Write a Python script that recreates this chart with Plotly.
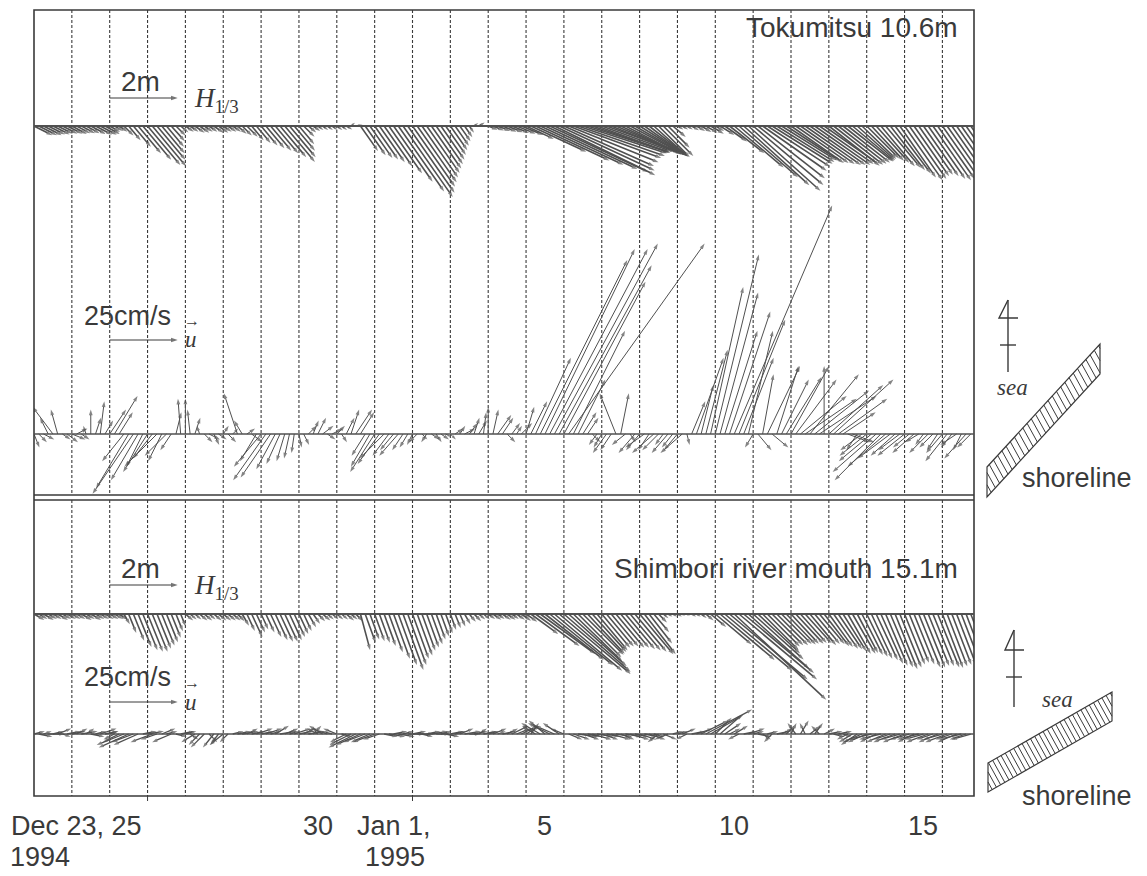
import math
import plotly.graph_objects as go

# ---------------- data: 3-hourly samples from Dec 23 1994 00:00 ----------------
STEP_DAYS = 0.125  # 3 h

# Tokumitsu 10.6 m : significant wave height (m) and direction (deg below the +x axis)
tok_h = [
    0.6, 0.6, 0.6, 0.55, 0.55, 0.5, 0.5, 0.5,
    0.5, 0.45, 0.45, 0.45, 0.5, 0.55, 0.55, 0.5,
    0.35, 0.3, 0.3, 0.4, 0.55, 0.8, 1.05, 1.3,
    1.5, 1.55, 1.3, 1.05, 0.8, 0.6, 0.4, 0.3,
    0.3, 0.3, 0.35, 0.35, 0.3, 0.3, 0.35, 0.35,
    0.3, 0.3, 0.3, 0.35, 0.4, 0.45, 0.55, 0.65,
    0.75, 0.85, 0.95, 1.05, 1.2, 1.38, 1.2, 0.95,
    0.7, 0.45, 0.3, 0.25, 0.2, 0.2, 0.2, 0.2,
    0.2, 0.2, 0.2, 0.15, 0.2, 0.9, 1.05, 1.15,
    1.2, 1.3, 1.45, 1.7, 2.0, 2.35, 2.55, 2.4,
    2.18, 2.02, 1.85, 1.69, 1.53, 1.37, 1.21, 1.04,
    0.87, 0.71, 0.55, 0.4, 0.24, 0.15, 0.2, 0.12,
    0.3, 0.35, 0.4, 0.45, 0.5, 0.55, 0.6, 0.7,
    0.9, 1.8, 2.4, 2.7, 3.0, 3.2, 3.3, 3.1,
    2.9, 2.85, 2.75, 2.7, 2.6, 2.5, 2.4, 2.3,
    2.2, 2.1, 2.05, 2.0, 1.9, 1.85, 1.8, 1.7,
    1.6, 1.55, 1.45, 1.35, 1.3, 1.25, 0.9, 0.5,
    0.2, 0.2, 0.2, 0.25, 0.3, 0.35, 0.4, 0.45,
    0.3, 0.5, 0.8, 1.3, 1.9, 2.3, 2.6, 2.85,
    2.7, 2.5, 2.3, 2.2, 2.1, 2.0, 1.9, 1.9,
    1.9, 1.9, 1.95, 2.0, 2.0, 2.0, 1.95, 1.9,
    1.9, 1.85, 1.8, 1.75, 1.7, 1.6, 1.5, 1.4,
    1.35, 1.4, 1.45, 1.55, 1.6, 1.65, 1.75, 1.85,
    1.95, 1.9, 1.8, 1.75, 1.8, 1.9, 1.95, 1.9,
    1.85, 1.8, 1.8, 1.75, 1.7, 1.7, 1.7,
]
tok_dir = [
    27, 27, 27, 27, 27, 27, 27, 27,
    28, 28, 28, 28, 28, 28, 28, 28,
    30, 30, 35, 45, 50, 50, 50, 50,
    50, 50, 50, 50, 50, 48, 45, 40,
    35, 35, 35, 35, 35, 35, 35, 35,
    35, 35, 35, 40, 45, 45, 50, 50,
    50, 50, 50, 50, 50, 50, 50, 50,
    50, 45, 40, 35, 35, 35, 35, 35,
    35, 35, 30, -40, -10, 55, 55, 55,
    55, 55, 55, 55, 55, 55, 55, 55,
    55, 55, 55, 55, 55, 55, 55, 55,
    55, 55, 55, 55, 55, -35, -30, -10,
    22, 22, 22, 22, 22, 22, 22, 22,
    25, 25, 25, 25, 25, 25, 26, 25,
    24, 22, 20, 19, 18, 18, 19, 20,
    20, 20, 22, 23, 25, 27, 28, 30,
    32, 35, 38, 42, 45, 45, 45, 40,
    30, 30, 30, 30, 30, 30, 30, 30,
    30, 32, 35, 38, 40, 41, 42, 42,
    40, 38, 35, 33, 32, 32, 32, 33,
    35, 35, 35, 35, 35, 35, 35, 35,
    38, 38, 38, 38, 38, 40, 42, 44,
    45, 47, 48, 50, 50, 52, 53, 55,
    55, 55, 55, 55, 55, 55, 55, 55,
    55, 55, 55, 55, 55, 55, 55,
]
# Tokumitsu current (cm/s): east and north components
tok_u = [
    2, 3, 4, -3, -7.5, -2.5, 3, 4,
    5, 4, 3, -1, 0, 2, 1.5, 3,
    6, 8.5, 5, -8, -12, -15, -10, -6,
    -9, -7, -12, -5, -8, -4, 2, -1,
    0, -1, 2, -1, 3, 4, 2, 3,
    2, 3, 2, -5, -3, 3, 4, -6,
    -10, -12, -11, -7, -5, -3, -2, -1,
    1, 2, 3, 2, 3, 4, 3, 4,
    3, 2, 3, 3, 6, 5, -5, -7,
    -9, -8, -9, -6, -5, -7, -4, -3,
    -2, -3, 2, -2, 3, 2, 3, 2,
    2, 3, 2, 4, 3, 2, 3, 1,
    0, 2, 5, 4, 3, 3, 2, 4,
    3, 6, 13, 32, 33, 36, 38, 34,
    30, 50, 19, 10, 5, 4, 3, -3,
    -3, -5, -4, -6, 3, -5, 2, -6,
    -5, -7, -4, -8, -6, -3, -6, -4,
    -5, -8, 1, 5, 10, 4.5, 8, 12,
    16, 14, 12, 15, 36, 17, 11, 9,
    -3, 5, 4, 12, 6, 8, 10, 13,
    14, 15, 17, 19, 18, 20, 21, 0,
    20, 22, 18, 12, 8, 8, -4, -8,
    -10, -12, -16, -17, -14, -12, -9, -8,
    -10, -6, -8, -5, -3, -7, -5, -4,
    -6, -8, -4, -6, -3, -8, -5,
]
tok_v = [
    -5, -3, -2, 6, 10, 9, -2, -3,
    -2, 2, -2, 3, 9, 6, 12, 5,
    9, 14, 8, -10, -20, -22, -17, -12,
    -14, -9, -12, -10, -8, -6, 8, 13,
    13, 9, 6, 3, -3, -2, -4, -2,
    3, -3, 2, 15, 5, 2, -3, -10,
    -12, -17, -16, -13, -11, -10, -9, -7,
    -5, -4, 3, 5, 6, 3, -2, 2,
    3, -3, 6, 9, 9, 8, -8, -12,
    -14, -11, -9, -8, -6, -8, -6, -5,
    -4, -3, -2, -3, -2, -3, -2, -1,
    -2, 2, 3, 2, 4, 6, 5, 8,
    10, 9, 7, 6, -3, 4, 3, 4,
    10, 12, 28, 64, 68, 68, 70, 62,
    56, 70, 38, 20, 8, 6, -3, -4,
    -5, -7, -6, 15, 15, -4, -3, -7,
    -6, -5, -6, -7, -6, -4, -7, -5,
    -6, -7, -4, 12, 28, 18, 31, 54,
    66, 52, 38, 45, 84, 42, 28, 38,
    -5, -6, 22, 25, -5, 25, 20, 21,
    25, 20, 14, 13, 22, 16, 14, 25,
    18, 20, 13, 8, -3, -3, -6, -6,
    -8, -10, -14, -17, -12, -9, -8, -6,
    -8, -5, -7, -3, -4, -7, -5, -6,
    -7, -10, -5, -4, -6, -9, -5,
]

# Shimbori river mouth 15.1 m
shi_h = [
    0.35, 0.3, 0.35, 0.3, 0.3, 0.35, 0.3, 0.3,
    0.3, 0.3, 0.35, 0.3, 0.35, 0.3, 0.3, 0.3,
    0.3, 0.3, 0.3, 0.35, 0.6, 0.85, 1.05, 1.15,
    1.2, 1.2, 1.1, 1.0, 0.9, 0.75, 0.55, 0.4,
    0.3, 0.25, 0.25, 0.3, 0.3, 0.25, 0.3, 0.3,
    0.3, 0.3, 0.3, 0.3, 0.4, 0.55, 0.75, 0.6,
    0.5, 0.6, 0.75, 0.85, 0.9, 0.9, 0.85, 0.75,
    0.65, 0.55, 0.45, 0.35, 0.3, 0.3, 0.25, 0.25,
    0.25, 0.25, 0.3, 0.25, 0.3, 1.1, 0.9, 0.8,
    0.85, 0.9, 1.0, 1.2, 1.4, 1.6, 1.75, 1.6,
    1.4, 1.3, 1.15, 1.05, 0.95, 0.8, 0.7, 0.6,
    0.5, 0.45, 0.4, 0.35, 0.3, 0.3, 0.25, 0.25,
    0.25, 0.3, 0.25, 0.3, 0.3, 0.25, 0.3, 0.35,
    0.4, 1.0, 1.6, 2.0, 2.2, 2.4, 2.6, 2.75,
    2.6, 2.3, 2.0, 1.8, 1.7, 1.6, 1.5, 1.4,
    1.3, 1.25, 1.25, 1.3, 1.3, 1.35, 1.4, 1.45,
    1.55, 1.5, 1.1, 0.7, 0.35, 0.2, 0.15, 0.15,
    0.15, 0.1, 0.1, 0.15, 0.15, 0.2, 0.3, 0.6,
    1.4, 2.1, 2.6, 3.0, 3.7, 3.0, 2.7, 2.4,
    2.0, 1.7, 1.5, 1.35, 1.3, 1.3, 1.25, 1.25,
    1.2, 1.2, 1.15, 1.15, 1.2, 1.15, 1.15, 1.2,
    1.2, 1.25, 1.25, 1.3, 1.35, 1.35, 1.3, 1.35,
    1.4, 1.45, 1.5, 1.6, 1.65, 1.7, 1.75, 1.7,
    1.6, 1.55, 1.6, 1.7, 1.7, 1.65, 1.65, 1.7,
    1.7, 1.65, 1.6, 1.6, 1.5, 1.45, 1.4,
]
shi_dir = [
    30, 30, 30, 30, 30, 30, 30, 30,
    30, 30, 30, 30, 30, 30, 30, 30,
    30, 30, 35, 60, 68, 68, 68, 68,
    68, 68, 68, 68, 68, 68, 68, 68,
    40, 40, 40, 40, 40, 40, 40, 40,
    40, 40, 40, 45, 60, 65, 65, 65,
    65, 65, 65, 65, 65, 65, 65, 65,
    65, 65, 60, 55, 45, 40, 40, 40,
    40, 40, 40, 40, 45, 75, 70, 70,
    70, 70, 70, 70, 70, 70, 70, 70,
    70, 70, 70, 70, 70, 70, 70, 70,
    70, 68, 66, 60, 50, 45, 40, 40,
    35, 35, 35, 35, 35, 35, 35, 35,
    35, 36, 36, 36, 38, 39, 40, 40,
    41, 42, 44, 45, 45, 47, 48, 50,
    50, 50, 50, 50, 50, 50, 50, 50,
    50, 52, 52, 50, 45, 40, 30, 30,
    30, 30, 30, 30, 30, 35, 40, 40,
    40, 40, 40, 40, 43, 40, 40, 42,
    42, 43, 45, 45, 45, 45, 45, 46,
    47, 47, 48, 48, 50, 50, 50, 52,
    54, 55, 56, 58, 60, 60, 62, 63,
    64, 65, 65, 66, 67, 67, 68, 68,
    68, 68, 68, 68, 68, 68, 68, 68,
    69, 69, 69, 69, 69, 69, 69,
]
shi_u = [
    4, 5, 3, 6, 4, 5, 3, 5,
    5, 4, 6, 3, 5, 4, 6, 5,
    3, -4, -6, -10, -11, -8, -9, 5,
    6, -8, -6, 5, 4, -7, 4, 5,
    4, 3, -5, -4, -5, 3, -4, -3,
    -5, -3, 4, 5, 6, 4, 5, 6,
    5, 6, 4, 5, 6, 5, 4, 6,
    5, 4, 6, 3, -4, -5, -6, -4,
    -5, 4, -6, -8, -10, -9, -8, -7,
    -8, -6, 5, 6, 5, 6, 4, 6,
    5, 6, 4, 5, 6, 5, 4, 5,
    5, 4, 5, 6, 4, 5, 3, 5,
    4, 5, 3, 5, 4, 6, 5, 6,
    5, 3, -5, -7, -6, -8, -7, -6,
    -5, 5, 6, 7, 6, 5, 7, 6,
    6, 5, 7, 6, 5, 6, 7, 5,
    6, 5, 6, 4, -4, 5, -5, 4,
    4, 5, -4, 5, 6, 10, 17, 12,
    6, 8, 6, 4, 5, -4, 5, 6,
    4, 5, 3, 4, -3, 5, 4, 3,
    2, -3, 3, -2, 4, 3, -3, 4,
    5, 4, 5, 3, -4, -5, -6, -7,
    -7, -8, -6, -8, -7, -6, -8, -7,
    -8, -7, -6, -8, -7, -8, -6, -7,
    -7, -8, -6, -7, -8, -6, -7,
]
shi_v = [
    1, -1, 1, 0, 1, 2, -1, 1,
    1, 2, 1, 2, -1, 1, 2, 1,
    1, -2, -3, -4, -5, -3, -4, 1,
    1, -3, -2, 2, 1, -3, -1, 1,
    1, -2, -3, -4, -5, -3, -5, -4,
    -4, -3, 1, 1, 1, 2, 1, 2,
    1, 2, 1, 3, 1, 2, 1, 2,
    1, 2, 1, 3, 2, 3, 2, 1,
    2, -1, -3, -4, -5, -4, -3, -3,
    -3, -2, -1, -1, 1, -1, 1, 0,
    1, 0, -1, 1, 1, 0, 1, -1,
    1, 1, 2, 1, 0, 1, 2, 1,
    1, 2, 1, 1, 2, 3, 2, 3,
    3, 4, 3, 4, 5, 4, 3, 4,
    2, -2, -2, -1, -2, -1, -2, -1,
    -2, -1, -2, -1, -2, -1, -2, -1,
    -2, -1, -2, -1, -3, -2, -2, 1,
    1, 2, -2, 1, 2, 5, 9, 7,
    6, 7, 4, 2, 3, -2, 1, 2,
    1, -1, -2, 1, -3, 1, 2, 3,
    4, 4, 5, 4, 3, 4, 3, 2,
    1, -1, 1, -1, -2, -3, -4, -3,
    -3, -2, -3, -2, -3, -2, -3, -2,
    -3, -2, -3, -2, -2, -3, -2, -3,
    -2, -3, -2, -3, -2, -2, -2,
]

# axis labels
date_labels = ["Dec 23, 25", "30", "Jan 1,", "5", "10", "15"]
year_labels = ["1994", "1995"]
station_titles = ["Tokumitsu 10.6m", "Shimbori river mouth 15.1m"]

# ---------------- geometry ----------------
W, H = 1147, 876
FX0, FX1, FY0, FY1 = 34, 974, 10, 796
SEP1, SEP2 = 495, 500
PX_DAY = 37.85
NDAYS = (FX1 - FX0) / PX_DAY
H_SCALE = 34.0   # px per metre
U_SCALE = 2.72   # px per cm/s
BASE_TOK_H, BASE_TOK_U, BASE_SHI_H, BASE_SHI_U = 126, 434, 614, 734
INK = "#3a3a3a"
STICK = "#505050"
SANS = "Liberation Sans, Arial, sans-serif"
SERIF = "Liberation Serif, Times New Roman, serif"

times = [i * STEP_DAYS for i in range(len(tok_h))]


def px_x(px):
    return px / W


def px_y(py):
    return 1 - py / H


def day_px(d):
    return FX0 + d * PX_DAY


def yrange(base, scale):
    return [-(H - base) / scale, base / scale]


def stick_trace(ts, east, north, scale, yaxis, head=5.5, width=1.0):
    xs, ys, sz = [], [], []
    for t, e, n in zip(ts, east, north):
        L = math.hypot(e, n) * scale
        xs += [t, t + e * scale / PX_DAY, None]
        ys += [0.0, n, None]
        sz += [0, max(0.0, min(head, 0.6 * L)), 0]
    return go.Scatter(
        x=xs, y=ys, yaxis=yaxis, mode="lines+markers",
        line=dict(color=STICK, width=width),
        marker=dict(symbol="arrow", angleref="previous", size=sz, color=STICK,
                    line=dict(width=0)),
        hoverinfo="skip", showlegend=False, cliponaxis=True,
    )


def wave_components(hs, dirs):
    e = [h * math.cos(math.radians(a)) for h, a in zip(hs, dirs)]
    n = [-h * math.sin(math.radians(a)) for h, a in zip(hs, dirs)]
    return e, n


fig = go.Figure()
te, tn = wave_components(tok_h, tok_dir)
se, sn = wave_components(shi_h, shi_dir)
fig.add_trace(stick_trace(times, te, tn, H_SCALE, "y", head=6, width=1.6))
fig.add_trace(stick_trace(times, tok_u, tok_v, U_SCALE, "y2", head=6, width=1.0))
fig.add_trace(stick_trace(times, se, sn, H_SCALE, "y3", head=6, width=1.6))
fig.add_trace(stick_trace(times, shi_u, shi_v, U_SCALE, "y4", head=5.5, width=1.3))


# scale arrows (2 m and 25 cm/s), drawn through the same axes
def scale_arrow(value, scale, base, py, yaxis):
    t0 = 2.0
    y = (base - py) / scale
    return go.Scatter(
        x=[t0, t0 + value * scale / PX_DAY], y=[y, y], yaxis=yaxis,
        mode="lines+markers", line=dict(color=INK, width=1),
        marker=dict(symbol="arrow", angleref="previous", size=[0, 7], color=INK,
                    line=dict(width=0)),
        hoverinfo="skip", showlegend=False,
    )


fig.add_trace(scale_arrow(2.0, H_SCALE, BASE_TOK_H, 98, "y"))
fig.add_trace(scale_arrow(25.0, U_SCALE, BASE_TOK_U, 340, "y2"))
fig.add_trace(scale_arrow(2.0, H_SCALE, BASE_SHI_H, 585, "y3"))
fig.add_trace(scale_arrow(25.0, U_SCALE, BASE_SHI_U, 702, "y4"))

shapes = []
# dashed day lines
for d in range(1, int(NDAYS) + 1):
    for (a, b) in [(FY0, SEP1), (SEP2, FY1)]:
        shapes.append(dict(type="line", xref="x", yref="paper", x0=d, x1=d,
                           y0=px_y(a), y1=px_y(b), layer="below",
                           line=dict(color="#3a3a3a", width=1.1, dash="3px,2px")))
# frame, separator, base lines
shapes.append(dict(type="rect", xref="paper", yref="paper", x0=px_x(FX0), x1=px_x(FX1),
                   y0=px_y(FY1), y1=px_y(FY0), line=dict(color=INK, width=1.6)))
for yy in (SEP1, SEP2):
    shapes.append(dict(type="line", xref="paper", yref="paper", x0=px_x(FX0), x1=px_x(FX1),
                       y0=px_y(yy), y1=px_y(yy), line=dict(color=INK, width=1.3)))
for yy, w in ((BASE_TOK_H, 2.0), (BASE_TOK_U, 1.5), (BASE_SHI_H, 2.0), (BASE_SHI_U, 1.5)):
    shapes.append(dict(type="line", xref="paper", yref="paper", x0=px_x(FX0), x1=px_x(FX1),
                       y0=px_y(yy), y1=px_y(yy), line=dict(color=STICK, width=w)))
for d in (3, 10):
    shapes.append(dict(type="line", xref="x", yref="paper", x0=d, x1=d,
                       y0=px_y(FY1), y1=px_y(FY1 + 5), line=dict(color=INK, width=1)))


# legend glyphs: compass marks and hatched shoreline bands
def compass(x, ytop, ybot, yhead, ycross):
    p = (f"M {px_x(x)},{px_y(ytop)} L {px_x(x - 9)},{px_y(yhead)} L {px_x(x + 10)},{px_y(yhead)}")
    return [
        dict(type="line", xref="paper", yref="paper", x0=px_x(x), x1=px_x(x),
             y0=px_y(ytop), y1=px_y(ybot), line=dict(color=INK, width=1.4)),
        dict(type="path", xref="paper", yref="paper", path=p, line=dict(color=INK, width=1.4)),
        dict(type="line", xref="paper", yref="paper", x0=px_x(x - 8), x1=px_x(x + 8),
             y0=px_y(ycross), y1=px_y(ycross), line=dict(color=INK, width=1.4)),
    ]


def band(xa, ya, xb, yb, T, gap=4.2, hx=0.55):
    m = (yb - ya) / (xb - xa)
    out = []
    path = (f"M {px_x(xa)},{px_y(ya)} L {px_x(xb)},{px_y(yb)} L {px_x(xb)},{px_y(yb + T)} "
            f"L {px_x(xa)},{px_y(ya + T)} Z")
    out.append(dict(type="path", xref="paper", yref="paper", path=path,
                    line=dict(color=INK, width=1.2), fillcolor="white"))
    s = T / (1 - m * hx)
    x0 = xa - s * hx
    while x0 < xb:
        ytop = ya + m * (x0 - xa)
        sx, sy = x0, ytop
        ex, ey = x0 + s * hx, ytop + s
        if sx < xa:
            sy = ytop + (xa - x0) / hx
            sx = xa
        if ex > xb:
            ey = ytop + (xb - x0) / hx
            ex = xb
        if ex > sx:
            out.append(dict(type="line", xref="paper", yref="paper", x0=px_x(sx), x1=px_x(ex),
                            y0=px_y(sy), y1=px_y(ey), line=dict(color=INK, width=1)))
        x0 += gap
    return out


shapes += compass(1008, 300, 372, 318, 345)
shapes += compass(1014, 630, 707, 650, 677)
shapes += band(987, 467, 1100, 344, 30)
shapes += band(988, 763, 1112, 692, 29)

ann = []


def text(s, px, py, size=27, anchor="center", family=SANS, color=INK):
    ann.append(dict(text=s, x=px_x(px), y=px_y(py), xref="paper", yref="paper",
                    xanchor=anchor, yanchor="middle", showarrow=False,
                    font=dict(family=family, size=size, color=color)))


text(station_titles[0], 960, 27, size=28, anchor="right")
text(station_titles[1], 960, 568, size=28, anchor="right")
for arrow_py, cur_py, cur_arrow_py in ((98, 316, 340), (585, 677, 702)):
    text("2m", 140, arrow_py - 17, size=28)
    text("<i>H</i><sub>1/3</sub>", 192, arrow_py + 2, size=27, anchor="left", family=SERIF)
    text("25cm/s", 127, cur_py, size=27)
    text("\u2192", 192, cur_arrow_py - 20, size=16, family=SANS)
    text("<i>u</i>", 191, cur_arrow_py, size=23, family=SERIF)

# date labels
text(date_labels[0], day_px(2.5) + 15, 826, anchor="right")
text(date_labels[1], day_px(7.5), 826)
text(date_labels[2], day_px(9.5), 826)
text(date_labels[3], day_px(13.5), 826)
text(date_labels[4], day_px(18.5), 826)
text(date_labels[5], day_px(23.5), 826)
text(year_labels[0], 8, 857, anchor="left")
text(year_labels[1], 363, 857, anchor="left")

# legend words
text("<i>sea</i>", 1012, 387, size=23, family=SERIF)
text("shoreline", 1077, 478, size=27)
text("<i>sea</i>", 1057, 699, size=23, family=SERIF)
text("shoreline", 1077, 796, size=27)

ax_common = dict(visible=False, fixedrange=True)
fig.update_layout(
    width=W, height=H, margin=dict(l=0, r=0, t=0, b=0),
    paper_bgcolor="white", plot_bgcolor="rgba(0,0,0,0)",
    showlegend=False,
    xaxis=dict(domain=[px_x(FX0), px_x(FX1)], range=[0, NDAYS], **ax_common),
    yaxis=dict(domain=[0, 1], range=yrange(BASE_TOK_H, H_SCALE), **ax_common),
    yaxis2=dict(domain=[0, 1], range=yrange(BASE_TOK_U, U_SCALE), overlaying="y", **ax_common),
    yaxis3=dict(domain=[0, 1], range=yrange(BASE_SHI_H, H_SCALE), overlaying="y", **ax_common),
    yaxis4=dict(domain=[0, 1], range=yrange(BASE_SHI_U, U_SCALE), overlaying="y", **ax_common),
    shapes=shapes, annotations=ann,
)

fig.write_html(
    "out.html",
    config={"displayModeBar": False, "staticPlot": True},
    post_script="document.body.style.margin='0';document.body.style.overflow='hidden';",
)
